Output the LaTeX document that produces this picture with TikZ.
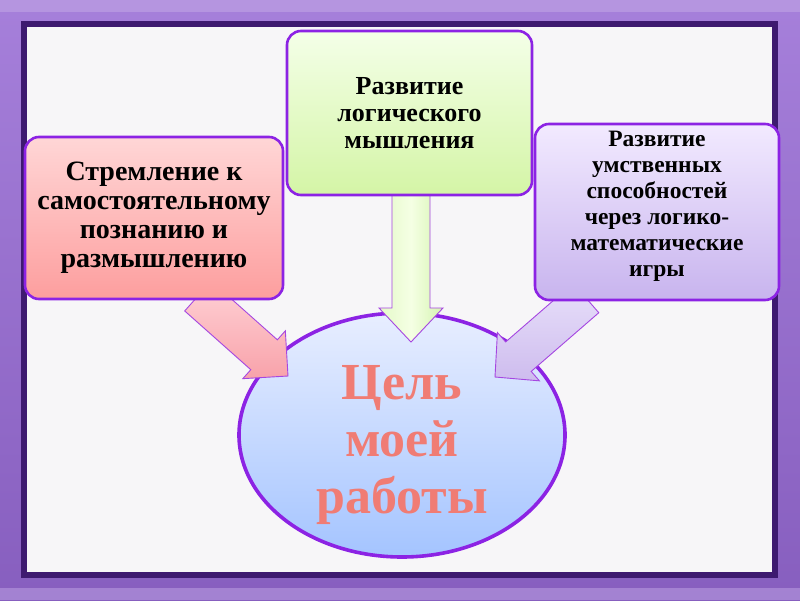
\documentclass[tikz,border=0pt]{standalone}
\usepackage{fontspec}
\setmainfont{Liberation Serif}
\usetikzlibrary{calc,shapes.geometric}
\definecolor{bord}{RGB}{140,35,228}
\definecolor{arrbord}{RGB}{165,70,225}
\definecolor{frameout}{RGB}{150,105,212}
\definecolor{framedark}{RGB}{62,26,112}
\definecolor{panel}{RGB}{247,246,248}
\definecolor{goal}{RGB}{240,124,116}
\tikzset{
  box/.style={draw=bord, line width=2.6pt, rounded corners=14pt, align=center,
    inner sep=0pt},
  pinkbox/.style={box, top color={rgb,255:red,255;green,214;blue,214}, bottom color={rgb,255:red,253;green,158;blue,158}},
  greenbox/.style={box, top color={rgb,255:red,244;green,255;blue,232}, bottom color={rgb,255:red,212;green,245;blue,166}},
  violetbox/.style={box, top color={rgb,255:red,242;green,234;blue,255}, bottom color={rgb,255:red,200;green,180;blue,238}},
  goalnode/.style={ellipse, draw=bord, line width=3.6pt, inner sep=0pt,
    top color={rgb,255:red,232;green,238;blue,255}, bottom color={rgb,255:red,164;green,196;blue,255}},
  label text/.style={align=center, inner sep=0pt},
  fatarr/.style={draw=arrbord, line width=0.9pt, line join=miter},
}
\newcommand\fatarrow[6]{%
  \coordinate (#2-b) at ($(#3)!#6!(#2)$);
  \path[#1] ($(#2)!#4!90:(#3)$) -- ($(#2-b)!#4!90:(#3)$) -- ($(#2-b)!#5!90:(#3)$)
    -- (#3) -- ($(#2-b)!#5!-90:(#3)$) -- ($(#2-b)!#4!-90:(#3)$) -- ($(#2)!#4!-90:(#3)$) -- cycle;
}
\begin{document}
\begin{tikzpicture}[x=1pt,y=-1pt]
\useasboundingbox (0,0) rectangle (800,600);
% background frame
\fill[top color=frameout!85!white, bottom color=frameout!90!black] (0,0) rectangle (800,600);
\fill[frameout!60!white, opacity=0.6] (0,0) rectangle (800,12);
\fill[frameout!60!white, opacity=0.5] (0,588) rectangle (800,600);
\draw[framedark, line width=6pt, fill=panel] (24,24) rectangle (775,575);

% central goal
\node[goalnode, minimum width=326pt, minimum height=244pt] (goal) at (402,435) {};
\node[label text, text=goal, font={\fontsize{52}{57}\selectfont\bfseries}] (goaltext) at (402,445)
  {Цель\\ моей\\ работы};

% arrows
\coordinate (a1s) at (198,296);
\coordinate (a1e) at (288,376);
\coordinate (a2s) at (411,188);
\coordinate (a2e) at (411,342);
\coordinate (a3s) at (586,298);
\coordinate (a3e) at (495,377);
\fatarrow{fatarr, top color={rgb,255:red,255;green,210;blue,214}, bottom color={rgb,255:red,248;green,162;blue,170}}{a1s}{a1e}{20pt}{32pt}{32pt}
\fatarrow{fatarr, left color={rgb,255:red,228;green,250;blue,200}, right color={rgb,255:red,212;green,244;blue,176}, middle color={rgb,255:red,245;green,255;blue,228}}{a2s}{a2e}{19pt}{32pt}{34pt}
\fatarrow{fatarr, top color={rgb,255:red,232;green,224;blue,250}, bottom color={rgb,255:red,206;green,188;blue,238}}{a3s}{a3e}{19.5pt}{32pt}{31pt}

% boxes
\node[pinkbox, minimum width=258pt, minimum height=162pt,
  font={\fontsize{28}{29}\selectfont\bfseries}] (pink) at (154,218)
  {Стремление к\\ самостоятельному\\ познанию и\\ размышлению};
\node[greenbox, minimum width=245pt, minimum height=164pt,
  font={\fontsize{26}{27}\selectfont\bfseries}] (green) at (409.5,113)
  {Развитие\\ логического\\ мышления};
\node[violetbox, minimum width=244pt, minimum height=176pt] (violet) at (657,212) {};
\node[label text, font={\fontsize{23.5}{26}\selectfont\bfseries}] (violettext) at (657,206)
  {Развитие\\ умственных\\ способностей\\ через логико-\\ математические\\ игры};
\end{tikzpicture}
\end{document}
